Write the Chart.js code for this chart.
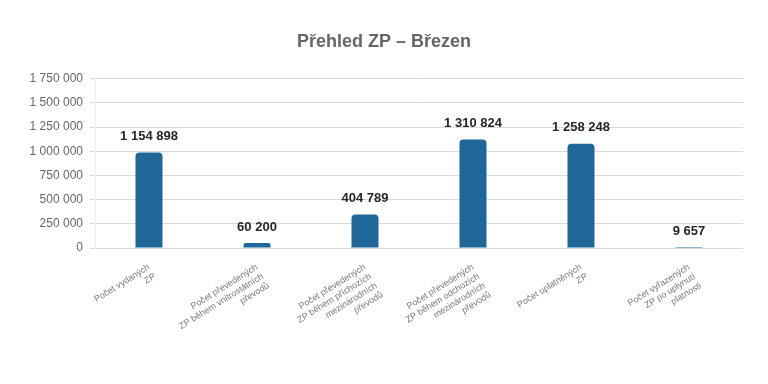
<!DOCTYPE html>
<html>
<head>
<meta charset="utf-8">
<script src="https://cdn.jsdelivr.net/npm/chart.js@4"></script>
<style>
  html, body { margin: 0; padding: 0; background: #fff; }
  #wrap { width: 768px; height: 384px; }
</style>
</head>
<body>
<div id="wrap"><canvas id="chart"></canvas></div>
<script>
const categories = [
    ["Počet vydaných", "ZP"],
    ["Počet převedených", "ZP během vnitrostátních", "převodů"],
    ["Počet převedených", "ZP během příchozích", "mezinárodních", "převodů"],
    ["Počet převedených", "ZP během odchozích", "mezinárodních", "převodů"],
    ["Počet uplatněných", "ZP"],
    ["Počet vyřazených", "ZP po uplynutí", "platnosti"]
];
const values = [1154898, 60200, 404789, 1310824, 1258248, 9657];
const tickLabels = ["0", "250 000", "500 000", "750 000", "1 000 000", "1 250 000", "1 500 000", "1 750 000"];
// the axis in the picture tops out above the last label
const axisMax = 2046000;

const FONT = "'Liberation Sans', Arial, sans-serif";

function fmt(n) {
    return String(n).replace(/\B(?=(\d{3})+(?!\d))/g, " ");
}

// value labels above the bars
const valueLabels = {
    id: "valueLabels",
    afterDatasetsDraw(chart) {
        const ctx = chart.ctx;
        const meta = chart.getDatasetMeta(0);
        ctx.save();
        ctx.font = "bold 13px " + FONT;
        ctx.fillStyle = "#262626";
        ctx.textAlign = "center";
        ctx.textBaseline = "middle";
        meta.data.forEach((bar, i) => {
            ctx.fillText(fmt(values[i]), bar.x, bar.y - 16);
        });
        ctx.restore();
    }
};

new Chart(document.getElementById("chart"), {
    type: "bar",
    data: {
        labels: categories,
        datasets: [{
            data: values,
            backgroundColor: "#1f6699",
            borderRadius: { topLeft: 4, topRight: 4 },
            borderSkipped: "bottom",
            barPercentage: 0.5,
            categoryPercentage: 0.5,
            minBarLength: 1
        }]
    },
    options: {
        responsive: true,
        maintainAspectRatio: false,
        animation: false,
        layout: { padding: 0 },
        plugins: {
            legend: { display: false },
            tooltip: { enabled: false },
            title: {
                display: true,
                text: "Přehled ZP – Březen",
                color: "#666666",
                font: { family: FONT, size: 18, weight: "bold" },
                padding: { top: 31, bottom: 26 }
            }
        },
        scales: {
            x: {
                grid: { display: false },
                border: { display: false },
                ticks: {
                    color: "#777777",
                    font: { family: FONT, size: 9 },
                    minRotation: 32,
                    maxRotation: 32,
                    autoSkip: false,
                    padding: 6
                },
                afterFit(scale) { scale.height = 136; }
            },
            y: {
                min: 0,
                max: axisMax,
                afterBuildTicks(scale) {
                    scale.ticks = tickLabels.map((t, i) => ({ value: axisMax * i / (tickLabels.length - 1) }));
                },
                grid: { color: "#d9d9d9", lineWidth: 1, tickLength: 5 },
                border: { display: true, color: "#eeeeee" },
                ticks: {
                    color: "#666666",
                    font: { family: FONT, size: 12 },
                    padding: 7,
                    callback: (v, i) => tickLabels[i]
                },
                afterFit(scale) { scale.width = 95; }
            },
            // empty right margin so the title stays centred on the page
            spacer: {
                axis: "y",
                position: "right",
                grid: { display: false },
                border: { display: false },
                ticks: { display: false },
                afterFit(scale) { scale.width = 25; }
            }
        }
    },
    plugins: [valueLabels]
});
</script>
</body>
</html>
